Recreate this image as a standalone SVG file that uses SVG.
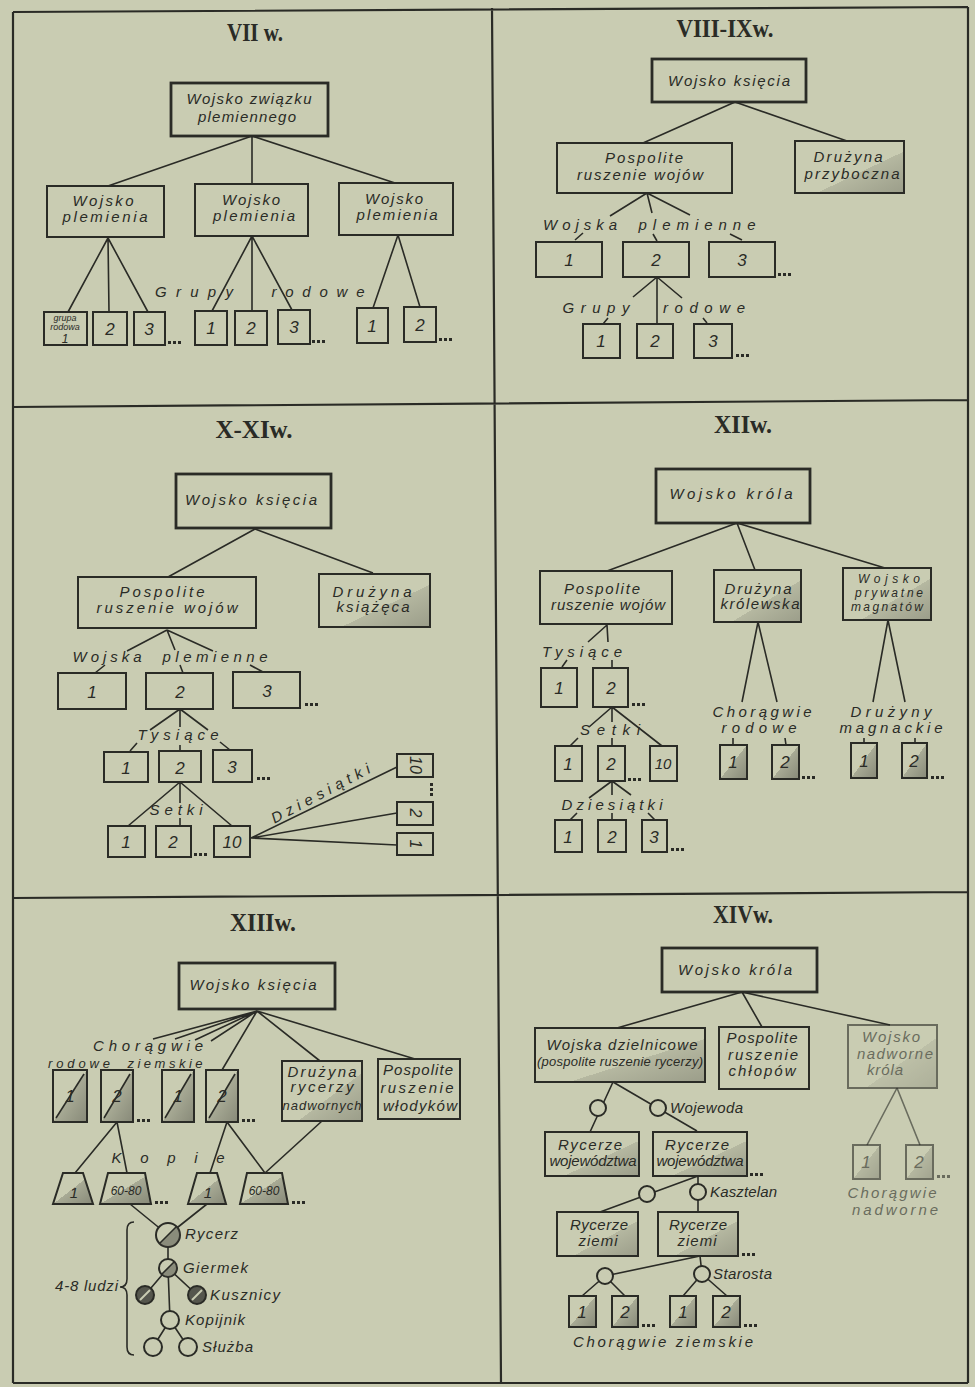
<svg xmlns="http://www.w3.org/2000/svg" width="975" height="1387" viewBox="0 0 975 1387">
<style>
.bg{fill:#c9ccb2}
.fr{fill:none;stroke:#2a2b26;stroke-width:2.2}
.bx{fill:none;stroke:#2a2b26;stroke-width:2}
.rb{stroke-width:2.8}
.shL{fill:url(#shL)}
.shD{fill:url(#shD)}
.c{fill:none;stroke:#2a2b26;stroke-width:1.6}
.t{font-family:"Liberation Sans",Arial,sans-serif;font-style:italic;font-size:15px;fill:#2a2b26;text-anchor:middle}
.s{font-size:13px}
.xs{font-size:12px}
.n{font-size:17px}
.st{text-anchor:start}
.ttl{font-family:"Liberation Serif","Times New Roman",serif;font-weight:bold;font-size:25px;fill:#2a2b26;text-anchor:middle}
.fd{opacity:0.6}
.cb{fill:#c9ccb2;stroke:#2a2b26;stroke-width:2}
.dk{fill:#3d3e37}
</style>
<defs>
<linearGradient id="shL" x1="0" y1="0" x2="1" y2="1">
<stop offset="0" stop-color="#45463e" stop-opacity="0"/>
<stop offset="0.6" stop-color="#45463e" stop-opacity="0"/>
<stop offset="0.6" stop-color="#45463e" stop-opacity="0.15"/>
<stop offset="1" stop-color="#45463e" stop-opacity="0.35"/>
</linearGradient>
<linearGradient id="shD" x1="0" y1="0" x2="1" y2="1">
<stop offset="0" stop-color="#45463e" stop-opacity="0"/>
<stop offset="0.5" stop-color="#45463e" stop-opacity="0"/>
<stop offset="0.5" stop-color="#45463e" stop-opacity="0.25"/>
<stop offset="1" stop-color="#45463e" stop-opacity="0.5"/>
</linearGradient>
<g id="dots" fill="#2a2b26"><rect x="0" y="-3" width="3" height="3"/><rect x="5" y="-3" width="3" height="3"/><rect x="10" y="-3" width="3" height="3"/></g>
</defs>
<rect class="bg" x="0" y="0" width="975" height="1387"/>

<g id="frame">
<path class="fr" d="M13 12 L968 7 M13 12 L13 1383 M968 7 L968 1383 M13 1383 L968 1383 M492 8 L501 1383 M13 407 L968 400 M13 898 L968 892"/>
</g>

<!-- Panel VII -->
<g id="p1-title"><text class="ttl" x="255" y="41" textLength="56" lengthAdjust="spacingAndGlyphs">VII w.</text></g>
<g id="p1-connectors">
<path class="c" d="M252 136 L108 186 M252 136 L252 184 M252 136 L395 183"/>
<path class="c" d="M108 238 L68 312 M108 238 L109 312 M108 238 L148 312"/>
<path class="c" d="M252 236 L212 311 M252 236 L252 311 M252 236 L292 310"/>
<path class="c" d="M398 235 L373 308 M398 235 L420 307"/>
</g>
<g id="p1-root"><rect class="bx rb" x="171" y="83" width="157" height="53"/>
<text class="t" x="249" y="104" textLength="125">Wojsko związku</text>
<text class="t" x="247" y="122" textLength="98">plemiennego</text></g>
<g id="p1-w1"><rect class="bx" x="47" y="186" width="117" height="51"/>
<text class="t" x="103" y="206" textLength="61">Wojsko</text><text class="t" x="105" y="222" textLength="85">plemienia</text></g>
<g id="p1-w2"><rect class="bx" x="195" y="184" width="113" height="52"/>
<text class="t" x="251" y="205" textLength="58">Wojsko</text><text class="t" x="254" y="221" textLength="82">plemienia</text></g>
<g id="p1-w3"><rect class="bx" x="339" y="183" width="114" height="52"/>
<text class="t" x="394" y="204" textLength="58">Wojsko</text><text class="t" x="397" y="220" textLength="81">plemienia</text></g>
<g id="p1-label"><text class="t" x="194" y="297" textLength="78">Grupy</text><text class="t" x="318" y="297" textLength="93">rodowe</text></g>
<g id="p1-g1">
<rect class="bx" x="44" y="312" width="43" height="33"/>
<text class="t" x="65" y="321" style="font-size:9px">grupa</text><text class="t" x="65" y="330" style="font-size:9px">rodowa</text><text class="t" x="65" y="343" style="font-size:12px">1</text>
<rect class="bx" x="93" y="312" width="34" height="33"/><text class="t n" x="110" y="335">2</text>
<rect class="bx" x="134" y="312" width="31" height="33"/><text class="t n" x="149" y="335">3</text>
<use href="#dots" x="168" y="344"/></g>
<g id="p1-g2">
<rect class="bx" x="195" y="311" width="32" height="34"/><text class="t n" x="211" y="334">1</text>
<rect class="bx" x="235" y="311" width="32" height="34"/><text class="t n" x="251" y="334">2</text>
<rect class="bx" x="278" y="310" width="32" height="34"/><text class="t n" x="294" y="333">3</text>
<use href="#dots" x="312" y="343"/></g>
<g id="p1-g3">
<rect class="bx" x="357" y="308" width="31" height="35"/><text class="t n" x="372" y="332">1</text>
<rect class="bx" x="404" y="307" width="32" height="35"/><text class="t n" x="420" y="331">2</text>
<use href="#dots" x="439" y="341"/></g>

<!-- Panel VIII-IX -->
<g id="p2-title"><text class="ttl" x="725" y="37" textLength="97" lengthAdjust="spacingAndGlyphs">VIII-IXw.</text></g>
<g id="p2-connectors">
<path class="c" d="M735 102 L643 143 M735 102 L847 141"/>
<path class="c" d="M647 193 L610 216 M647 193 L652 213 M647 193 L690 215 M575 240 L583 233 M657 241 L653 234 M742 240 L730 234"/>
<path class="c" d="M657 277 L633 297 M657 277 L657 324 M657 277 L682 298 M603 324 L608 318 M707 323 L703 318"/>
</g>
<g id="p2-root"><rect class="bx rb" x="652" y="59" width="154" height="43"/><text class="t" x="729" y="86" textLength="122">Wojsko księcia</text></g>
<g id="p2-posp"><rect class="bx" x="557" y="143" width="175" height="50"/>
<text class="t" x="644" y="163" textLength="78">Pospolite</text><text class="t" x="640" y="180" textLength="126">ruszenie wojów</text></g>
<g id="p2-druz"><rect class="bx shL" x="795" y="141" width="109" height="52"/>
<text class="t" x="848" y="162" textLength="69">Drużyna</text><text class="t" x="852" y="179" textLength="95">przyboczna</text></g>
<g id="p2-label1"><text class="t" x="580" y="230" textLength="74">Wojska</text><text class="t" x="697" y="230" textLength="117">plemienne</text></g>
<g id="p2-row1">
<rect class="bx" x="536" y="242" width="66" height="35"/><text class="t n" x="569" y="266">1</text>
<rect class="bx" x="623" y="242" width="66" height="35"/><text class="t n" x="656" y="266">2</text>
<rect class="bx" x="709" y="242" width="66" height="35"/><text class="t n" x="742" y="266">3</text>
<use href="#dots" x="778" y="276"/></g>
<g id="p2-label2"><text class="t" x="596" y="313" textLength="67">Grupy</text><text class="t" x="704" y="313" textLength="82">rodowe</text></g>
<g id="p2-row2">
<rect class="bx" x="583" y="324" width="37" height="34"/><text class="t n" x="601" y="347">1</text>
<rect class="bx" x="637" y="324" width="36" height="34"/><text class="t n" x="655" y="347">2</text>
<rect class="bx" x="694" y="324" width="38" height="34"/><text class="t n" x="713" y="347">3</text>
<use href="#dots" x="736" y="357"/></g>

<!-- Panel X-XI -->
<g id="p3-title"><text class="ttl" x="254" y="438" textLength="77" lengthAdjust="spacingAndGlyphs">X-XIw.</text></g>
<g id="p3-connectors">
<path class="c" d="M255 529 L168 577 M255 529 L373 573"/>
<path class="c" d="M167 630 L127 651 M167 630 L175 650 M167 630 L213 651 M95 673 L105 665 M183 673 L180 665 M263 672 L250 665"/>
<path class="c" d="M180 709 L150 730 M180 709 L180 727 M180 709 L208 730 M130 751 L137 743 M180 751 L180 745 M230 750 L220 742"/>
<path class="c" d="M180 782 L128 826 M180 782 L180 803 M180 782 L232 826 M180 818 L180 826"/>
<path class="c" d="M251 838 L397 767 M251 838 L397 813 M251 838 L397 845"/>
</g>
<g id="p3-root"><rect class="bx rb" x="176" y="474" width="155" height="54"/><text class="t" x="251" y="505" textLength="132">Wojsko księcia</text></g>
<g id="p3-posp"><rect class="bx" x="78" y="577" width="178" height="51"/>
<text class="t" x="162" y="597" textLength="85">Pospolite</text><text class="t" x="167" y="613" textLength="141">ruszenie wojów</text></g>
<g id="p3-druz"><rect class="bx shL" x="319" y="574" width="111" height="53"/>
<text class="t" x="372" y="597" textLength="79">Drużyna</text><text class="t" x="373" y="612" textLength="73">książęca</text></g>
<g id="p3-label1"><text class="t" x="107" y="662" textLength="69">Wojska</text><text class="t" x="215" y="662" textLength="105">plemienne</text></g>
<g id="p3-row1">
<rect class="bx" x="58" y="673" width="68" height="36"/><text class="t n" x="92" y="698">1</text>
<rect class="bx" x="146" y="673" width="67" height="36"/><text class="t n" x="180" y="698">2</text>
<rect class="bx" x="233" y="672" width="67" height="36"/><text class="t n" x="267" y="697">3</text>
<use href="#dots" x="305" y="706"/></g>
<g id="p3-label2"><text class="t" x="178" y="740" textLength="81">Tysiące</text></g>
<g id="p3-row2">
<rect class="bx" x="104" y="752" width="44" height="30"/><text class="t n" x="126" y="774">1</text>
<rect class="bx" x="159" y="751" width="42" height="31"/><text class="t n" x="180" y="774">2</text>
<rect class="bx" x="213" y="750" width="39" height="32"/><text class="t n" x="232" y="773">3</text>
<use href="#dots" x="257" y="780"/></g>
<g id="p3-label3"><text class="t" x="176" y="815" textLength="53">Setki</text></g>
<g id="p3-row3">
<rect class="bx" x="108" y="826" width="37" height="31"/><text class="t n" x="126" y="848">1</text>
<rect class="bx" x="156" y="826" width="35" height="31"/><text class="t n" x="173" y="848">2</text>
<rect class="bx" x="214" y="826" width="36" height="31"/><text class="t n" x="232" y="848">10</text>
<use href="#dots" x="194" y="856"/></g>
<g id="p3-dzies">
<text class="t" transform="translate(323,798) rotate(-28)" x="0" y="0" textLength="110">Dziesiątki</text>
<rect class="bx" x="397" y="754" width="36" height="23"/><text class="t" transform="translate(415,765) rotate(90)" x="0" y="5" style="font-size:16px">10</text>
<rect class="bx" x="397" y="802" width="36" height="23"/><text class="t" transform="translate(415,813) rotate(90)" x="0" y="5" style="font-size:16px">2</text>
<rect class="bx" x="397" y="833" width="36" height="22"/><text class="t" transform="translate(415,844) rotate(90)" x="0" y="5" style="font-size:16px">1</text>
<g fill="#2a2b26"><rect x="430" y="783" width="3" height="3"/><rect x="430" y="788" width="3" height="3"/><rect x="430" y="793" width="3" height="3"/></g>
</g>

<!-- Panel XII -->
<g id="p4-title"><text class="ttl" x="743" y="433" textLength="58" lengthAdjust="spacingAndGlyphs">XIIw.</text></g>
<g id="p4-connectors">
<path class="c" d="M737 523 L607 571 M737 523 L755 570 M737 523 L885 568"/>
<path class="c" d="M607 625 L588 642 M607 625 L608 642 M562 667 L567 660 M612 667 L612 660"/>
<path class="c" d="M612 707 L589 727 M578 738 L570 746 M612 707 L612 722 M612 738 L612 746 M612 707 L662 746"/>
<path class="c" d="M612 781 L589 798 M570 820 L577 813 M612 781 L612 795 M612 813 L612 820 M612 781 L631 795 M655 820 L648 813"/>
<path class="c" d="M758 622 L742 702 M758 622 L777 702 M733 738 L733 745 M785 738 L786 745"/>
<path class="c" d="M888 620 L873 702 M888 620 L905 702 M864 738 L864 743 M915 738 L915 743"/>
</g>
<g id="p4-root"><rect class="bx rb" x="656" y="469" width="154" height="54"/><text class="t" x="731" y="499" textLength="123">Wojsko króla</text></g>
<g id="p4-posp"><rect class="bx" x="540" y="571" width="132" height="53"/>
<text class="t" x="602" y="594" textLength="76">Pospolite</text><text class="t" x="608" y="610" textLength="114">ruszenie wojów</text></g>
<g id="p4-druz"><rect class="bx shL" x="714" y="570" width="87" height="52"/>
<text class="t" x="758" y="594" textLength="67">Drużyna</text><text class="t" x="760" y="609" textLength="79">królewska</text></g>
<g id="p4-magn"><rect class="bx shL" x="843" y="568" width="88" height="52"/>
<text class="t xs" x="889" y="583" textLength="62">Wojsko</text><text class="t xs" x="889" y="597" textLength="68">prywatne</text><text class="t xs" x="887" y="611" textLength="72">magnatów</text></g>
<g id="p4-l1"><text class="t" x="582" y="657" textLength="80">Tysiące</text></g>
<g id="p4-r1">
<rect class="bx" x="541" y="668" width="36" height="39"/><text class="t n" x="559" y="694">1</text>
<rect class="bx" x="593" y="668" width="35" height="39"/><text class="t n" x="611" y="694">2</text>
<use href="#dots" x="632" y="706"/></g>
<g id="p4-l2"><text class="t" x="610" y="735" textLength="60">Setki</text></g>
<g id="p4-r2">
<rect class="bx" x="555" y="746" width="27" height="35"/><text class="t n" x="568" y="770">1</text>
<rect class="bx" x="598" y="746" width="27" height="35"/><text class="t n" x="611" y="770">2</text>
<rect class="bx" x="650" y="746" width="27" height="35"/><text class="t" x="663" y="769">10</text>
<use href="#dots" x="628" y="781"/></g>
<g id="p4-l3"><text class="t" x="612" y="810" textLength="101">Dziesiątki</text></g>
<g id="p4-r3">
<rect class="bx" x="555" y="820" width="27" height="32"/><text class="t n" x="568" y="843">1</text>
<rect class="bx" x="598" y="820" width="28" height="32"/><text class="t n" x="612" y="843">2</text>
<rect class="bx" x="642" y="820" width="25" height="32"/><text class="t n" x="654" y="843">3</text>
<use href="#dots" x="671" y="851"/></g>
<g id="p4-chor"><text class="t" x="762" y="717" textLength="99">Chorągwie</text><text class="t" x="759" y="733" textLength="75">rodowe</text>
<rect class="bx shD" x="720" y="745" width="27" height="34"/><text class="t n" x="733" y="768">1</text>
<rect class="bx shD" x="772" y="745" width="27" height="34"/><text class="t n" x="785" y="768">2</text>
<use href="#dots" x="802" y="779"/></g>
<g id="p4-druzyny"><text class="t" x="891" y="717" textLength="81">Drużyny</text><text class="t" x="891" y="733" textLength="103">magnackie</text>
<rect class="bx shD" x="851" y="743" width="26" height="35"/><text class="t n" x="864" y="767">1</text>
<rect class="bx shD" x="902" y="743" width="25" height="35"/><text class="t n" x="914" y="767">2</text>
<use href="#dots" x="931" y="779"/></g>

<!-- Panel XIII -->
<g id="p5-title"><text class="ttl" x="263" y="931" textLength="66" lengthAdjust="spacingAndGlyphs">XIIIw.</text></g>
<g id="p5-connectors">
<path class="c" d="M257 1011 L153 1039 M257 1011 L175 1039 M257 1011 L195 1040 M257 1011 L211 1041 M257 1011 L222 1070 M257 1011 L320 1061 M257 1011 L415 1059"/>
<path class="c" d="M117 1122 L75 1173 M117 1122 L127 1173 M227 1122 L210 1173 M227 1122 L265 1173 M322 1121 L265 1173"/>
<path class="c" d="M130 1204 L168 1235 M207 1204 L168 1235 M168 1235 L168 1268 M168 1268 L145 1295 M168 1268 L197 1295 M168 1268 L170 1320 M170 1320 L153 1347 M170 1320 L188 1347"/>
<path class="c" d="M134 1222 Q127 1222 127 1230 L127 1279 Q127 1287 120 1287 Q127 1287 127 1295 L127 1347 Q127 1355 134 1355"/>
</g>
<g id="p5-root"><rect class="bx rb" x="179" y="963" width="156" height="46"/><text class="t" x="253" y="990" textLength="127">Wojsko księcia</text></g>
<g id="p5-label"><text class="t" x="148" y="1051" textLength="110">Chorągwie</text><text class="t s" x="79" y="1068" textLength="62">rodowe</text><text class="t s" x="165" y="1068" textLength="75">ziemskie</text></g>
<g id="p5-banners">
<rect class="bx shD" x="53" y="1070" width="34" height="52"/><path class="c" d="M56 1118 L84 1074"/><text class="t n" x="70" y="1102">1</text>
<rect class="bx shD" x="101" y="1070" width="32" height="52"/><path class="c" d="M104 1118 L130 1074"/><text class="t n" x="117" y="1102">2</text>
<use href="#dots" x="137" y="1122"/>
<rect class="bx shD" x="162" y="1070" width="32" height="52"/><path class="c" d="M165 1118 L191 1074"/><text class="t n" x="178" y="1102">1</text>
<rect class="bx shD" x="206" y="1070" width="32" height="52"/><path class="c" d="M209 1118 L235 1074"/><text class="t n" x="222" y="1102">2</text>
<use href="#dots" x="242" y="1122"/></g>
<g id="p5-druz"><rect class="bx shL" x="282" y="1061" width="80" height="60"/>
<text class="t" x="322" y="1077" textLength="69">Drużyna</text><text class="t" x="322" y="1092" textLength="63">rycerzy</text><text class="t s" x="322" y="1110" textLength="79">nadwornych</text></g>
<g id="p5-posp"><rect class="bx" x="378" y="1059" width="82" height="60"/>
<text class="t" x="418" y="1075" textLength="70">Pospolite</text><text class="t" x="417" y="1093" textLength="73">ruszenie</text><text class="t" x="420" y="1111" textLength="74">włodyków</text></g>
<g id="p5-kopie"><text class="t" x="168" y="1163" textLength="113">Kopie</text>
<polygon class="bx shD" points="63,1173 83,1173 93,1204 53,1204"/><text class="t" x="74" y="1198">1</text>
<polygon class="bx shD" points="108,1173 145,1173 151,1204 100,1204"/><text class="t" x="126" y="1195" style="font-size:12px">60-80</text>
<use href="#dots" x="155" y="1204"/>
<polygon class="bx shD" points="197,1173 217,1173 226,1204 188,1204"/><text class="t" x="208" y="1198">1</text>
<polygon class="bx shD" points="247,1173 282,1173 288,1204 240,1204"/><text class="t" x="264" y="1195" style="font-size:12px">60-80</text>
<use href="#dots" x="292" y="1204"/></g>
<g id="p5-rycerz"><circle class="cb" cx="168" cy="1235" r="12"/><path class="dk" d="M176.5 1226.5 A12 12 0 0 1 159.5 1243.5 Z" opacity="0.45"/><path class="c" d="M160 1243 L176 1227"/>
<text class="t st" x="185" y="1239" textLength="53">Rycerz</text></g>
<g id="p5-giermek"><circle class="cb" cx="168" cy="1268" r="9"/><path class="dk" d="M174.4 1261.6 A9 9 0 0 1 161.6 1274.4 Z" opacity="0.45"/><path class="c" d="M162 1274 L174 1262"/>
<text class="t st" x="183" y="1273" textLength="65">Giermek</text></g>
<g id="p5-kusznicy"><circle class="cb" cx="145" cy="1295" r="9" style="fill:#55564d"/><path d="M140 1300 L150 1290" stroke="#c9ccb2" stroke-width="2"/>
<circle class="cb" cx="197" cy="1295" r="9" style="fill:#55564d"/><path d="M192 1300 L202 1290" stroke="#c9ccb2" stroke-width="2"/>
<text class="t st" x="210" y="1300" textLength="70">Kusznicy</text></g>
<g id="p5-kopijnik"><circle class="cb" cx="170" cy="1320" r="9"/><text class="t st" x="185" y="1325" textLength="60">Kopijnik</text></g>
<g id="p5-sluzba"><circle class="cb" cx="153" cy="1347" r="9"/><circle class="cb" cx="188" cy="1347" r="9"/><text class="t st" x="202" y="1352" textLength="51">Służba</text></g>
<g id="p5-ludzi"><text class="t st" x="55" y="1291" textLength="63">4-8 ludzi</text></g>

<!-- Panel XIV -->
<g id="p6-title"><text class="ttl" x="743" y="923" textLength="60" lengthAdjust="spacingAndGlyphs">XIVw.</text></g>
<g id="p6-connectors">
<path class="c" d="M742 992 L617 1028 M742 992 L762 1027 M742 992 L890 1025"/>
<path class="c" d="M613 1082 L590 1132 M613 1082 L697 1131"/>
<path class="c" d="M698 1176 L600 1212 M698 1176 L698 1212"/>
<path class="c" d="M700 1256 L605 1276 M700 1256 L702 1274 M605 1276 L582 1296 M605 1276 L625 1296 M702 1274 L683 1296 M702 1274 L727 1296"/>
<path class="c fd" d="M897 1088 L867 1145 M897 1088 L920 1145"/>
</g>
<g id="p6-root"><rect class="bx rb" x="662" y="948" width="155" height="44"/><text class="t" x="735" y="975" textLength="114">Wojsko króla</text></g>
<g id="p6-dziel"><rect class="bx shL" x="535" y="1028" width="170" height="54"/>
<text class="t" x="622" y="1050" textLength="151">Wojska dzielnicowe</text><text class="t s" x="620" y="1066" textLength="166">(pospolite ruszenie rycerzy)</text></g>
<g id="p6-posp"><rect class="bx" x="719" y="1027" width="90" height="62"/>
<text class="t" x="762" y="1043" textLength="71">Pospolite</text><text class="t" x="763" y="1060" textLength="70">ruszenie</text><text class="t" x="762" y="1076" textLength="67">chłopów</text></g>
<g id="p6-nadw" class="fd"><rect class="bx shL" x="848" y="1025" width="89" height="63"/>
<text class="t" x="891" y="1042" textLength="58">Wojsko</text><text class="t" x="895" y="1059" textLength="76">nadworne</text><text class="t" x="885" y="1075" textLength="36">króla</text></g>
<g id="p6-woj"><circle class="cb" cx="598" cy="1108" r="8"/><circle class="cb" cx="658" cy="1108" r="8"/>
<text class="t st" x="670" y="1113" textLength="73">Wojewoda</text></g>
<g id="p6-rw1"><rect class="bx shL" x="545" y="1132" width="94" height="44"/>
<text class="t" x="590" y="1150" textLength="64">Rycerze</text><text class="t" x="593" y="1166" textLength="87">województwa</text></g>
<g id="p6-rw2"><rect class="bx shL" x="653" y="1132" width="94" height="44"/>
<text class="t" x="697" y="1150" textLength="64">Rycerze</text><text class="t" x="700" y="1166" textLength="87">województwa</text>
<use href="#dots" x="750" y="1176"/></g>
<g id="p6-kasz"><circle class="cb" cx="647" cy="1194" r="8"/><circle class="cb" cx="698" cy="1192" r="8"/>
<text class="t st" x="710" y="1197" textLength="67">Kasztelan</text></g>
<g id="p6-rz1"><rect class="bx shL" x="557" y="1212" width="81" height="44"/>
<text class="t" x="599" y="1230" textLength="58">Rycerze</text><text class="t" x="598" y="1246" textLength="39">ziemi</text></g>
<g id="p6-rz2"><rect class="bx shL" x="658" y="1212" width="80" height="44"/>
<text class="t" x="698" y="1230" textLength="58">Rycerze</text><text class="t" x="697" y="1246" textLength="39">ziemi</text>
<use href="#dots" x="742" y="1256"/></g>
<g id="p6-star"><circle class="cb" cx="605" cy="1276" r="8"/><circle class="cb" cx="702" cy="1274" r="8"/>
<text class="t st" x="713" y="1279" textLength="59">Starosta</text></g>
<g id="p6-ch">
<rect class="bx shD" x="569" y="1296" width="27" height="31"/><text class="t n" x="582" y="1318">1</text>
<rect class="bx shD" x="612" y="1296" width="26" height="31"/><text class="t n" x="625" y="1318">2</text>
<use href="#dots" x="642" y="1327"/>
<rect class="bx shD" x="670" y="1296" width="26" height="31"/><text class="t n" x="683" y="1318">1</text>
<rect class="bx shD" x="713" y="1296" width="27" height="31"/><text class="t n" x="726" y="1318">2</text>
<use href="#dots" x="744" y="1327"/>
<text class="t" x="663" y="1347" textLength="180">Chorągwie ziemskie</text></g>
<g id="p6-chn" class="fd">
<rect class="bx shD" x="853" y="1145" width="27" height="34"/><text class="t n" x="866" y="1168">1</text>
<rect class="bx shD" x="906" y="1145" width="27" height="34"/><text class="t n" x="919" y="1168">2</text>
<use href="#dots" x="937" y="1178"/>
<text class="t" x="892" y="1198" textLength="89">Chorągwie</text><text class="t" x="895" y="1215" textLength="86">nadworne</text></g>
</svg>
